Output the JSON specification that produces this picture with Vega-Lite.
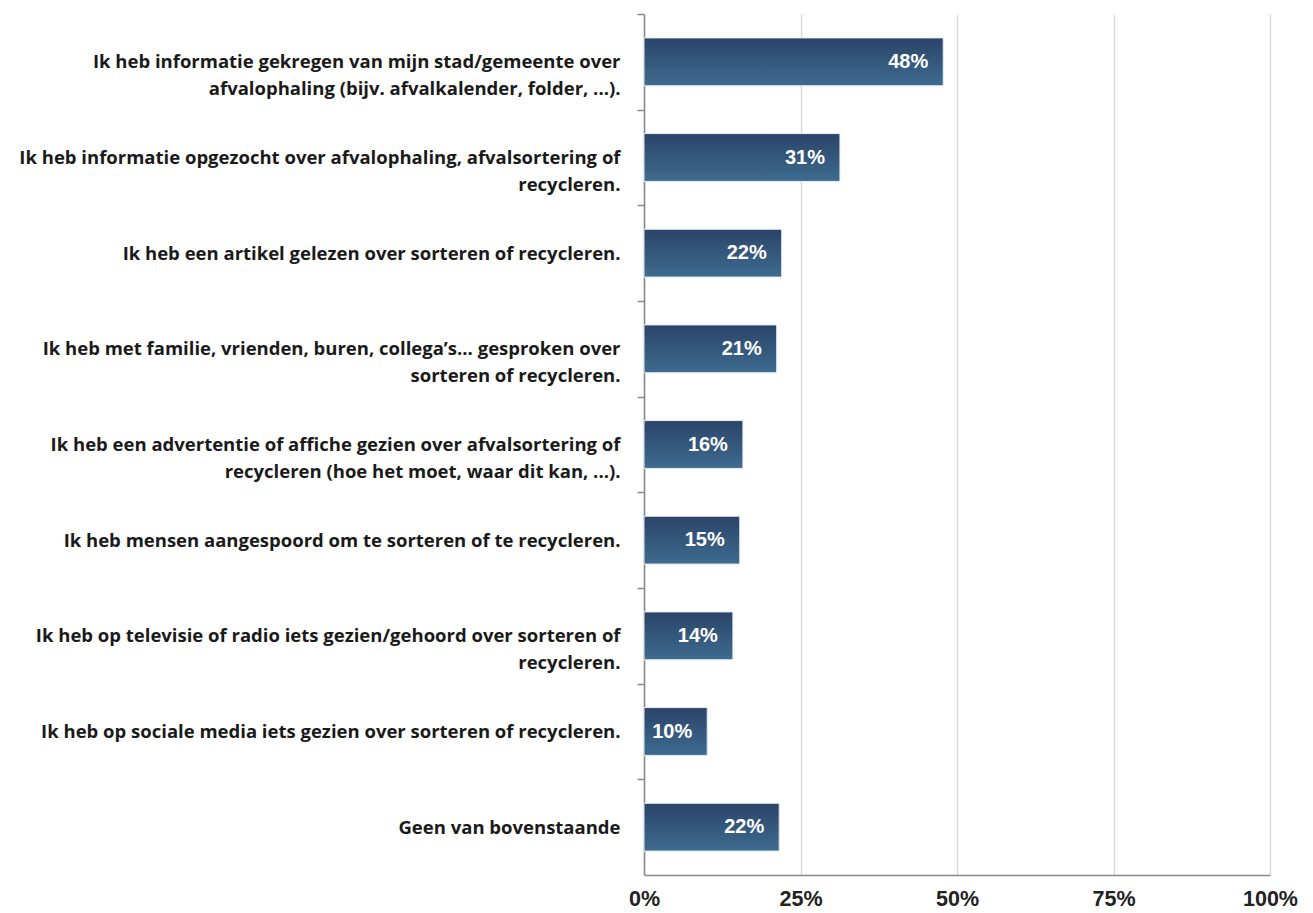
{
  "$schema": "https://vega.github.io/schema/vega-lite/v6.json",
  "width": 626,
  "height": 861,
  "autosize": {"type": "none"},
  "padding": {"left": 644, "top": 14, "right": 43, "bottom": 38},
  "background": "white",
  "config": {"view": {"stroke": null}},
  "data": {
    "values": [
      {"item": "Ik heb informatie gekregen van mijn stad/gemeente over|afvalophaling (bijv. afvalkalender, folder, ...).", "share": 0.478},
      {"item": "Ik heb informatie opgezocht over afvalophaling, afvalsortering of|recycleren.", "share": 0.313},
      {"item": "Ik heb een artikel gelezen over sorteren of recycleren.", "share": 0.22},
      {"item": "Ik heb met familie, vrienden, buren, collega’s... gesproken over|sorteren of recycleren.", "share": 0.212},
      {"item": "Ik heb een advertentie of affiche gezien over afvalsortering of|recycleren (hoe het moet, waar dit kan, ...).", "share": 0.158},
      {"item": "Ik heb mensen aangespoord om te sorteren of te recycleren.", "share": 0.153},
      {"item": "Ik heb op televisie of radio iets gezien/gehoord over sorteren of|recycleren.", "share": 0.142},
      {"item": "Ik heb op sociale media iets gezien over sorteren of recycleren.", "share": 0.101},
      {"item": "Geen van bovenstaande", "share": 0.216}
    ]
  },
  "encoding": {
    "y": {
      "field": "item",
      "type": "nominal",
      "sort": null,
      "scale": {"paddingInner": 0.5, "paddingOuter": 0.25},
      "axis": {
        "title": null,
        "labelExpr": "split(datum.label, '|')",
        "labelFont": "Open Sans",
        "labelFontWeight": "bold",
        "labelFontSize": 18.5,
        "labelColor": "#1a1a1a",
        "labelLineHeight": 27,
        "labelLimit": 700,
        "labelPadding": 17,
        "labelOffset": 47.83,
        "tickOffset": -47.83,
        "tickSize": 7,
        "tickColor": "#888888",
        "tickWidth": 1.5,
        "domainColor": "#888888",
        "domainWidth": 1.5,
        "grid": false
      }
    },
    "x": {
      "field": "share",
      "type": "quantitative",
      "scale": {"domain": [0, 1]},
      "axis": {
        "title": null,
        "format": ".0%",
        "values": [0, 0.25, 0.5, 0.75, 1],
        "ticks": false,
        "labelFont": "Liberation Sans",
        "labelFontWeight": "bold",
        "labelFontSize": 21.5,
        "labelColor": "#222222",
        "labelPadding": 13,
        "labelFlush": false,
        "domainColor": "#888888",
        "domainWidth": 1.5,
        "grid": true,
        "gridColor": "#d9d9d9",
        "gridWidth": 1.5
      }
    }
  },
  "layer": [
    {
      "mark": {
        "type": "bar",
        "stroke": "#e8eef4",
        "strokeWidth": 1,
        "color": {
          "gradient": "linear",
          "x1": 0, "y1": 0, "x2": 0, "y2": 1,
          "stops": [
            {"offset": 0, "color": "#2a4468"},
            {"offset": 1, "color": "#3e6b90"}
          ]
        }
      }
    },
    {
      "mark": {
        "type": "text",
        "align": "right",
        "dx": -15,
        "font": "Liberation Sans",
        "fontWeight": "bold",
        "fontSize": 20,
        "color": "white"
      },
      "encoding": {
        "text": {"field": "share", "type": "quantitative", "format": ".0%"}
      }
    }
  ]
}
